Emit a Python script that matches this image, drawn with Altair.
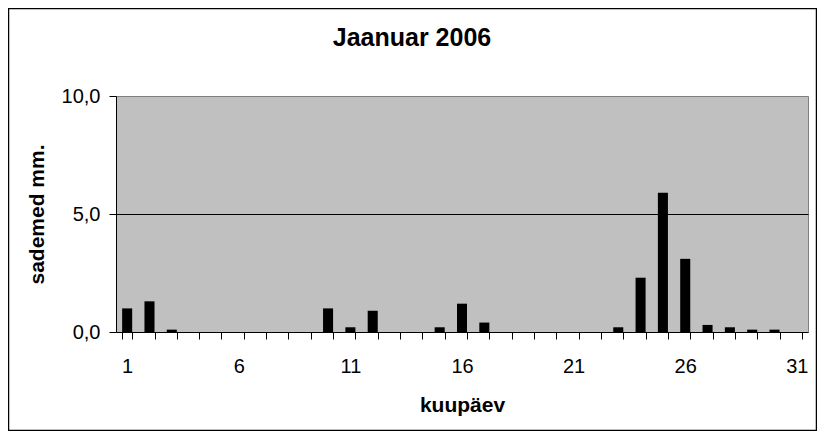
import altair as alt
import pandas as pd

days = list(range(1, 32))
precip = [1.0, 1.3, 0.1, 0, 0, 0, 0, 0, 0, 1.0,
          0.2, 0.9, 0, 0, 0.2, 1.2, 0.4, 0, 0, 0,
          0, 0, 0.2, 2.3, 5.9, 3.1, 0.3, 0.2, 0.1, 0.1,
          0]
y_ticks = [0, 5, 10]
title_text = "Jaanuar 2006"

df = pd.DataFrame({"day": days, "mm": precip})
FONT = "Liberation Sans"

bars = alt.Chart(df).mark_bar(color="black").encode(
    x=alt.X("day:O",
            scale=alt.Scale(paddingInner=0.55, paddingOuter=0.275),
            axis=alt.Axis(title="kuupäev", labelAngle=0,
                          labelExpr="(datum.value - 1) % 5 == 0 ? datum.value : ''",
                          tickBand="extent", tickSize=7, labelPadding=17,
                          labelFontSize=20, labelFont=FONT, labelColor="black",
                          titleFontSize=21, titleFont=FONT, titleFontWeight="bold",
                          titleColor="black", titlePadding=18,
                          domainColor="black", tickColor="black", grid=False)),
    y=alt.Y("mm:Q",
            scale=alt.Scale(domain=[0, 10], nice=False),
            axis=alt.Axis(title="sademed mm.", values=y_ticks,
                          labelExpr="replace(format(datum.value, '.1f'), '.', ',')",
                          tickSize=7, labelPadding=9,
                          labelFontSize=20, labelFont=FONT, labelColor="black",
                          titleFontSize=21, titleFont=FONT, titleFontWeight="bold",
                          titleColor="black", titlePadding=14,
                          domainColor="black", tickColor="black",
                          grid=True,
                          gridColor={"condition": {"test": "datum.value === 5", "value": "black"},
                                     "value": "transparent"},
                          gridWidth=1)),
)

title = alt.Chart(pd.DataFrame({"t": [title_text]})).mark_text(
    font=FONT, fontSize=25, fontWeight="bold", color="black",
    align="center", baseline="alphabetic"
).encode(
    text="t:N", x=alt.value(296), y=alt.value(-50),
)

border = alt.Chart(pd.DataFrame({"a": [0]})).mark_rect(
    fill=None, stroke="black", strokeWidth=1.5
).encode(
    x=alt.value(-107.5), x2=alt.value(700.5),
    y=alt.value(-87.5), y2=alt.value(334.5),
)

chart = alt.layer(bars, title, border).properties(
    width=692, height=236,
    background="white",
    autosize=alt.AutoSizeParams(type="none"),
    padding={"left": 108, "top": 88, "right": 9, "bottom": 99},
).configure_view(
    fill="#C0C0C0", stroke="#808080", strokeWidth=1
)

chart.save("out.html", embed_options={"renderer": "svg", "actions": False})
